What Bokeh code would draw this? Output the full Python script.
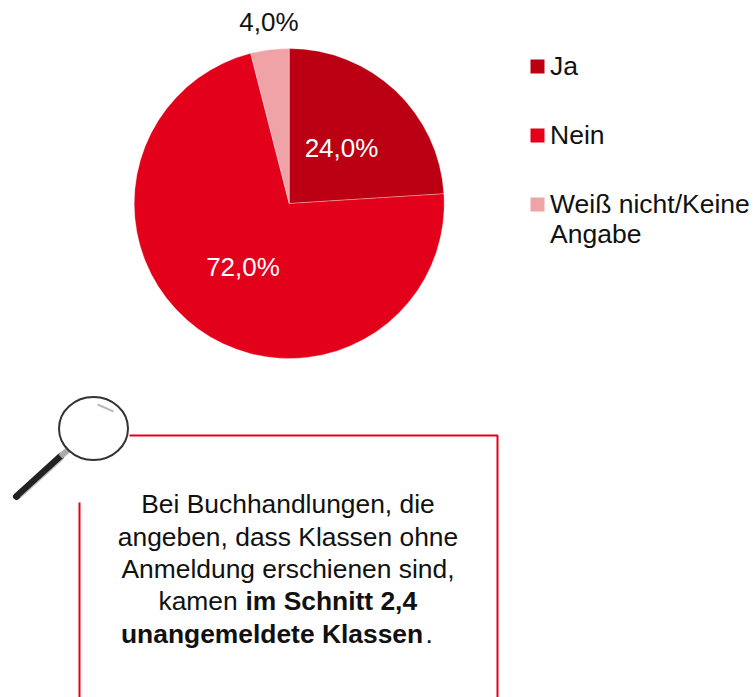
from bokeh.plotting import figure
from bokeh.embed import file_html
from bokeh.resources import INLINE
from bokeh.core.properties import value
from bokeh.models import Range1d
import math

categories = ["Ja", "Nein", "Weiß nicht/Keine Angabe"]
values = [24.0, 72.0, 4.0]
labels = ["24,0%", "72,0%", "4,0%"]
colors = ["#BA0012", "#E2001A", "#EFA3A7"]

W, H = 754, 697
p = figure(width=W, height=H, output_backend="svg", toolbar_location=None,
           x_range=Range1d(0, W), y_range=Range1d(H, 0),
           min_border=0, outline_line_color=None)
p.xaxis.visible = False
p.yaxis.visible = False
p.grid.visible = False
p.background_fill_color = "white"

cx, cy, r = 288.7, 203, 155
FONT = value("Liberation Sans")
cum = 0.0
label_pos = [(341, 147.5), (242.5, 266.5), (268.5, 21.5)]
for v, c in zip(values, colors):
    a0 = math.pi / 2 - cum / 100 * 2 * math.pi
    cum += v
    a1 = math.pi / 2 - cum / 100 * 2 * math.pi
    p.wedge(x=[cx], y=[cy], radius=r, start_angle=a0, end_angle=a1,
            direction="clock", fill_color=c, line_color="white", line_width=0.5, line_alpha=0.6)
for lab, (lx, ly) in zip(labels, label_pos):
    p.text(x=[lx], y=[ly], text=[lab], text_font=FONT, text_font_size="26px",
           text_color="white" if lab != "4,0%" else "#111111",
           text_align="center", text_baseline="middle")

legend_y = [66, 135, 204]
legend_text = [["Ja"], ["Nein"], ["Weiß nicht/Keine", "Angabe"]]
for ly, c, lines in zip(legend_y, colors, legend_text):
    p.rect(x=[537], y=[ly], width=14, height=14, fill_color=c, line_color=None)
    for i, t in enumerate(lines):
        p.text(x=[549.5], y=[ly - 1 + i * 30.5], text=[t], text_font=FONT, text_font_size="26.5px",
               text_color="#111111", text_align="left", text_baseline="middle")

# callout box
box = "#E2001A"
p.line([129, 497, 497], [435, 435, 697], line_color=box, line_width=2)
p.line([79, 79], [502, 697], line_color=box, line_width=2)

# magnifying glass
p.line([16, 60], [496, 456], line_color="#222222", line_width=7, line_cap="round")
p.line([20, 62], [497, 459], line_color="#BBBBBB", line_width=1.2)
p.line([60, 68], [456, 449], line_color="#AAAAAA", line_width=6)
p.ellipse(x=[93], y=[428], width=69, height=63, fill_color="white", fill_alpha=1,
          line_color="#333333", line_width=2)
p.line([97, 104, 113], [404, 407, 411], line_color="#BBBBBB", line_width=2)

FS = "26.4px"
body = ["Bei Buchhandlungen, die", "angeben, dass Klassen ohne", "Anmeldung erschienen sind,"]
for i, t in enumerate(body):
    p.text(x=[287.5], y=[503.5 + i * 32.5], text=[t], text_font=FONT, text_font_size=FS,
           text_color="#111111", text_align="center", text_baseline="middle")
p.text(x=[158], y=[600.5], text=["kamen"], text_font=FONT, text_font_size=FS, text_color="#111111",
       text_align="left", text_baseline="middle")
p.text(x=[245], y=[600.5], text=["im Schnitt 2,4"], text_font=FONT, text_font_size=FS, text_font_style="bold",
       text_color="#111111", text_align="left", text_baseline="middle")
p.text(x=[120.5], y=[633.5], text=["unangemeldete Klassen"], text_font=FONT, text_font_size=FS, text_font_style="bold",
       text_color="#111111", text_align="left", text_baseline="middle")
p.text(x=[425], y=[633.5], text=["."], text_font=FONT, text_font_size=FS, text_color="#111111",
       text_align="left", text_baseline="middle")

open("out.html", "w").write(file_html(p, INLINE))
